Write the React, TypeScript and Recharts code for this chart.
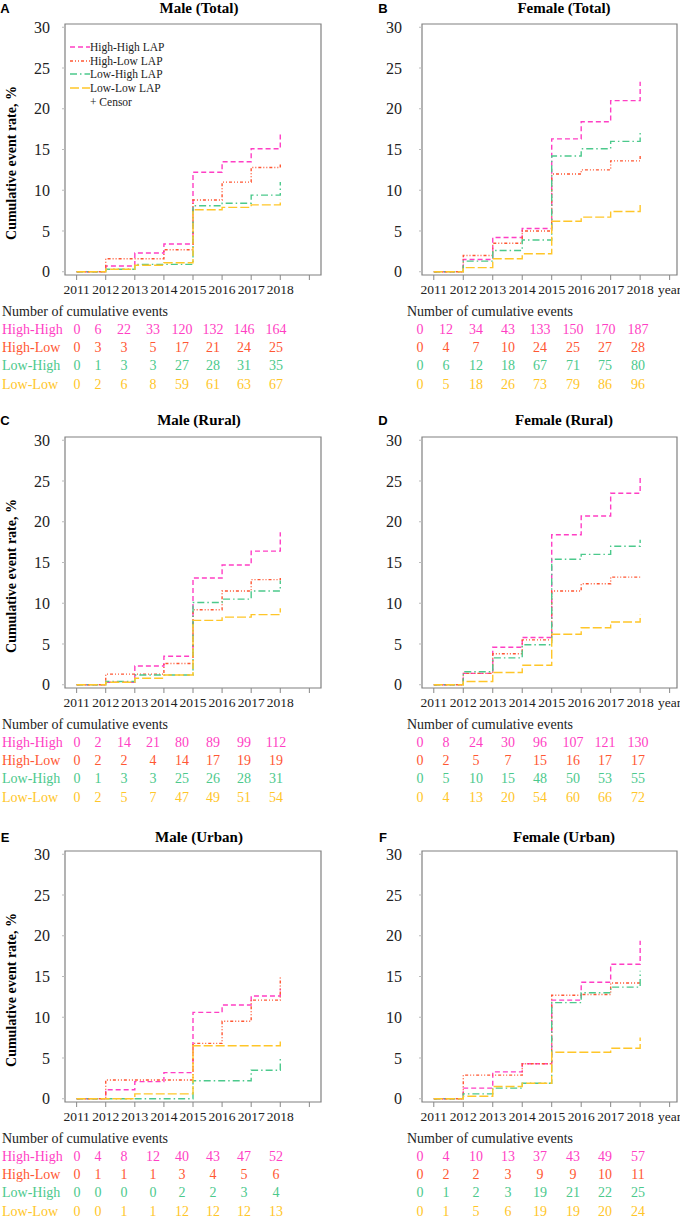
import React from 'react';
import {
  LineChart,
  Line,
  XAxis,
  YAxis,
  ReferenceArea,
  Legend,
} from 'recharts';

// years on the x axis; 2019 only carries a tick (or "year" on the right column)
const YEARS = [2011, 2012, 2013, 2014, 2015, 2016, 2017, 2018];
const X_TICKS = [2011, 2012, 2013, 2014, 2015, 2016, 2017, 2018, 2019];
const Y_TICKS = [0, 5, 10, 15, 20, 25, 30];

// step levels (rate %, held from each year to the next, 2011..2017) and the censor tick top at 2018
const A_HH = [0, 0.7, 2.3, 3.4, 12.2, 13.5, 15.1];
const A_HL = [0, 1.6, 1.6, 2.7, 8.8, 11.0, 12.8];
const A_LH = [0, 0.3, 0.9, 0.9, 8.1, 8.4, 9.4];
const A_LL = [0, 0.3, 0.8, 1.1, 7.6, 7.9, 8.2];
const A_TOP = [17.1, 13.4, 11.0, 8.9];

const B_HH = [0, 1.5, 4.2, 5.3, 16.3, 18.4, 21.0];
const B_HL = [0, 2.0, 3.5, 5.0, 12.0, 12.5, 13.6];
const B_LH = [0, 1.3, 2.6, 3.9, 14.2, 15.1, 16.0];
const B_LL = [0, 0.5, 1.6, 2.2, 6.2, 6.7, 7.4];
const B_TOP = [23.3, 14.2, 17.2, 8.3];

const C_HH = [0, 0.3, 2.3, 3.5, 13.1, 14.7, 16.4];
const C_HL = [0, 1.3, 1.3, 2.6, 9.2, 11.5, 12.9];
const C_LH = [0, 0.4, 1.2, 1.2, 10.1, 10.5, 11.5];
const C_LL = [0, 0.3, 0.8, 1.2, 7.9, 8.3, 8.6];
const C_TOP = [18.7, 13.1, 12.8, 9.4];

const D_HH = [0, 1.4, 4.6, 5.8, 18.4, 20.7, 23.5];
const D_HL = [0, 1.4, 3.8, 5.5, 11.5, 12.4, 13.2];
const D_LH = [0, 1.6, 3.3, 4.9, 15.4, 16.0, 17.0];
const D_LL = [0, 0.4, 1.5, 2.4, 6.2, 7.0, 7.7];
const D_TOP = [25.4, 13.2, 17.8, 8.6];

const E_HH = [0, 1.1, 2.1, 3.2, 10.6, 11.5, 12.6];
const E_HL = [0, 2.3, 2.3, 2.3, 6.8, 9.5, 12.1];
const E_LH = [0, 0, 0, 0, 2.2, 2.2, 3.5];
const E_LL = [0, 0, 0.6, 0.6, 6.5, 6.5, 6.5];
const E_TOP = [13.5, 14.9, 4.9, 7.3];

const F_HH = [0, 1.3, 3.3, 4.3, 12.1, 14.3, 16.5];
const F_HL = [0, 2.9, 2.9, 4.3, 12.7, 12.8, 14.2];
const F_LH = [0, 0.6, 1.3, 1.9, 11.8, 13.0, 13.7];
const F_LL = [0, 0.3, 1.5, 1.9, 5.7, 5.7, 6.2];
const F_TOP = [19.4, 14.2, 15.7, 7.5];

// number of cumulative events, per year 2011..2018
const A_N = [
  [0, 6, 22, 33, 120, 132, 146, 164],
  [0, 3, 3, 5, 17, 21, 24, 25],
  [0, 1, 3, 3, 27, 28, 31, 35],
  [0, 2, 6, 8, 59, 61, 63, 67],
];
const B_N = [
  [0, 12, 34, 43, 133, 150, 170, 187],
  [0, 4, 7, 10, 24, 25, 27, 28],
  [0, 6, 12, 18, 67, 71, 75, 80],
  [0, 5, 18, 26, 73, 79, 86, 96],
];
const C_N = [
  [0, 2, 14, 21, 80, 89, 99, 112],
  [0, 2, 2, 4, 14, 17, 19, 19],
  [0, 1, 3, 3, 25, 26, 28, 31],
  [0, 2, 5, 7, 47, 49, 51, 54],
];
const D_N = [
  [0, 8, 24, 30, 96, 107, 121, 130],
  [0, 2, 5, 7, 15, 16, 17, 17],
  [0, 5, 10, 15, 48, 50, 53, 55],
  [0, 4, 13, 20, 54, 60, 66, 72],
];
const E_N = [
  [0, 4, 8, 12, 40, 43, 47, 52],
  [0, 1, 1, 1, 3, 4, 5, 6],
  [0, 0, 0, 0, 2, 2, 3, 4],
  [0, 0, 1, 1, 12, 12, 12, 13],
];
const F_N = [
  [0, 4, 10, 13, 37, 43, 49, 57],
  [0, 2, 2, 3, 9, 9, 10, 11],
  [0, 1, 2, 3, 19, 21, 22, 25],
  [0, 1, 5, 6, 19, 19, 20, 24],
];

const SERIES = [
  { key: 'hh', name: 'High-High', color: '#FF3FC4', dash: '5 3' },
  { key: 'hl', name: 'High-Low', color: '#FF5733', dash: '3 2 1 2 1 2' },
  { key: 'lh', name: 'Low-High', color: '#4CC98C', dash: '7 3 1.5 3' },
  { key: 'll', name: 'Low-Low', color: '#FFC629', dash: '9 3' },
];

const SERIF = "'Liberation Serif', 'DejaVu Serif', 'Times New Roman', Times, serif";
const LEFT_COLS = [77, 98, 124, 153, 182, 213, 244, 276];
const RIGHT_COLS = [420, 446, 476, 508, 540, 573, 605, 638];
const PLOT_H = 251;
const PAD_TOP = 12;
const Y_DOMAIN = [-0.4, 30.4];

const PANELS = [
  { letter: 'A', title: 'Male (Total)', side: 'left', top: 24, titleY: 8, levels: [A_HH, A_HL, A_LH, A_LL], tops: A_TOP, counts: A_N, legend: true },
  { letter: 'B', title: 'Female (Total)', side: 'right', top: 24, titleY: 8, levels: [B_HH, B_HL, B_LH, B_LL], tops: B_TOP, counts: B_N },
  { letter: 'C', title: 'Male (Rural)', side: 'left', top: 437, titleY: 420, levels: [C_HH, C_HL, C_LH, C_LL], tops: C_TOP, counts: C_N },
  { letter: 'D', title: 'Female (Rural)', side: 'right', top: 437, titleY: 420, levels: [D_HH, D_HL, D_LH, D_LL], tops: D_TOP, counts: D_N },
  { letter: 'E', title: 'Male (Urban)', side: 'left', top: 851, titleY: 837, levels: [E_HH, E_HL, E_LH, E_LL], tops: E_TOP, counts: E_N },
  { letter: 'F', title: 'Female (Urban)', side: 'right', top: 851, titleY: 837, levels: [F_HH, F_HL, F_LH, F_LL], tops: F_TOP, counts: F_N },
];

function stepPoints(levels: number[], top: number) {
  const pts = levels.map((v, i) => ({ year: YEARS[i], rate: v }));
  const last = levels[levels.length - 1];
  pts.push({ year: YEARS[YEARS.length - 1], rate: last });
  pts.push({ year: YEARS[YEARS.length - 1], rate: top });
  return pts;
}

function Centered({ x, y, children, style }: any) {
  return (
    <div
      style={{
        position: 'absolute',
        left: x,
        top: y,
        transform: 'translate(-50%, -50%)',
        whiteSpace: 'nowrap',
        lineHeight: 1,
        fontFamily: SERIF,
        ...style,
      }}
    >
      {children}
    </div>
  );
}

function LegendBox({ payload }: any) {
  return (
    <div style={{ fontFamily: SERIF, fontSize: 11.5, color: '#222' }}>
      {(payload || []).map((entry: any) => {
        const s = SERIES.find((d) => d.name === entry.value);
        if (!s) return null;
        return (
          <div key={s.key} style={{ display: 'flex', alignItems: 'center', height: 13.7 }}>
            <svg width={20} height={8}>
              <line x1={0} y1={4} x2={20} y2={4} stroke={s.color} strokeWidth={1.4} strokeDasharray={s.dash} />
            </svg>
            <span>{s.name} LAP</span>
          </div>
        );
      })}
      <div style={{ height: 13.7, display: 'flex', alignItems: 'center', paddingLeft: 20 }}>+ Censor</div>
    </div>
  );
}

function Panel({ p }: any) {
  const left = p.side === 'left';
  const xDomain = left ? [2010.6, 2019.4] : [2010.6, 2019.25];
  const cols = left ? LEFT_COLS : RIGHT_COLS;
  const offsetX = left ? 0 : 340;
  return (
    <>
      <Centered x={left ? 5 : 383} y={p.titleY} style={{ fontFamily: "'Liberation Sans', Arial, sans-serif", fontWeight: 700, fontSize: 13 }}>
        {p.letter}
      </Centered>
      <Centered x={left ? 199 : 564} y={p.titleY} style={{ fontWeight: 700, fontSize: 15 }}>
        {p.title}
      </Centered>
      {left && (
        <Centered
          x={12}
          y={p.top + PLOT_H / 2 + 13}
          style={{ fontWeight: 700, fontSize: 14, transform: 'translate(-50%, -50%) rotate(-90deg)' }}
        >
          Cumulative event rate, %
        </Centered>
      )}
      <div style={{ position: 'absolute', left: offsetX, top: p.top - PAD_TOP }}>
        <LineChart
          width={340}
          height={PLOT_H + 30 + PAD_TOP}
          margin={{ top: PAD_TOP, right: left ? 19 : 3, bottom: 0, left: 0 }}
          style={{ overflow: 'visible' }}
        >
          <XAxis
            type="number"
            dataKey="year"
            domain={xDomain}
            allowDataOverflow
            ticks={X_TICKS}
            interval={0}
            height={30}
            axisLine={false}
            tickLine={{ stroke: '#888' }}
            tickSize={5}
            tickMargin={4}
            tick={{ fontFamily: SERIF, fontSize: 13.5, fill: '#222' }}
            tickFormatter={(v: number) => (v === 2019 ? (left ? '' : 'year') : String(v))}
          />
          <YAxis
            type="number"
            domain={Y_DOMAIN}
            allowDataOverflow
            ticks={Y_TICKS}
            interval={0}
            width={left ? 65 : 82}
            axisLine={false}
            tickLine={{ stroke: '#bbb' }}
            tickSize={3}
            tickMargin={left ? 12 : 17}
            tick={{ fontFamily: SERIF, fontSize: 16, fill: '#222' }}
          />
          <ReferenceArea
            x1={xDomain[0]}
            x2={xDomain[1]}
            y1={Y_DOMAIN[0]}
            y2={Y_DOMAIN[1]}
            fill="none"
            fillOpacity={0}
            stroke="#808080"
            strokeWidth={1.2}
            ifOverflow="visible"
          />
          {SERIES.map((s, i) => (
            <Line
              key={s.key}
              name={s.name}
              data={stepPoints(p.levels[i], p.tops[i])}
              dataKey="rate"
              type="stepAfter"
              stroke={s.color}
              strokeWidth={1.4}
              strokeDasharray={s.dash}
              dot={false}
              activeDot={false}
              isAnimationActive={false}
            />
          ))}
          {p.legend && (
            <Legend
              layout="vertical"
              align="center"
              verticalAlign="middle"
              wrapperStyle={{ left: 70, top: 16 + PAD_TOP, width: 160 }}
              content={LegendBox}
            />
          )}
        </LineChart>
      </div>
      <div
        style={{
          position: 'absolute',
          left: left ? 2 : 407,
          top: p.top + 288,
          transform: 'translateY(-50%)',
          fontFamily: SERIF,
          fontSize: 14,
          color: '#222',
          whiteSpace: 'nowrap',
          lineHeight: 1,
        }}
      >
        Number of cumulative events
      </div>
      {SERIES.map((s, i) => {
        const y = p.top + 305.5 + i * 18.4;
        return (
          <React.Fragment key={s.key}>
            {left && (
              <div
                style={{
                  position: 'absolute',
                  left: 2,
                  top: y,
                  transform: 'translateY(-50%)',
                  fontFamily: SERIF,
                  fontSize: 14,
                  color: s.color,
                  whiteSpace: 'nowrap',
                  lineHeight: 0.9,
                }}
              >
                {s.name}
              </div>
            )}
            {p.counts[i].map((n: number, j: number) => (
              <Centered key={j} x={cols[j]} y={y} style={{ fontSize: 14, color: s.color, lineHeight: 0.9 }}>
                {n}
              </Centered>
            ))}
          </React.Fragment>
        );
      })}
    </>
  );
}

export default function App() {
  return (
    <div
      style={{
        position: 'absolute',
        left: 0,
        top: 0,
        width: 680,
        height: 1218,
        background: '#fff',
        overflow: 'hidden',
      }}
    >
      {PANELS.map((p) => (
        <Panel key={p.letter} p={p} />
      ))}
    </div>
  );
}
